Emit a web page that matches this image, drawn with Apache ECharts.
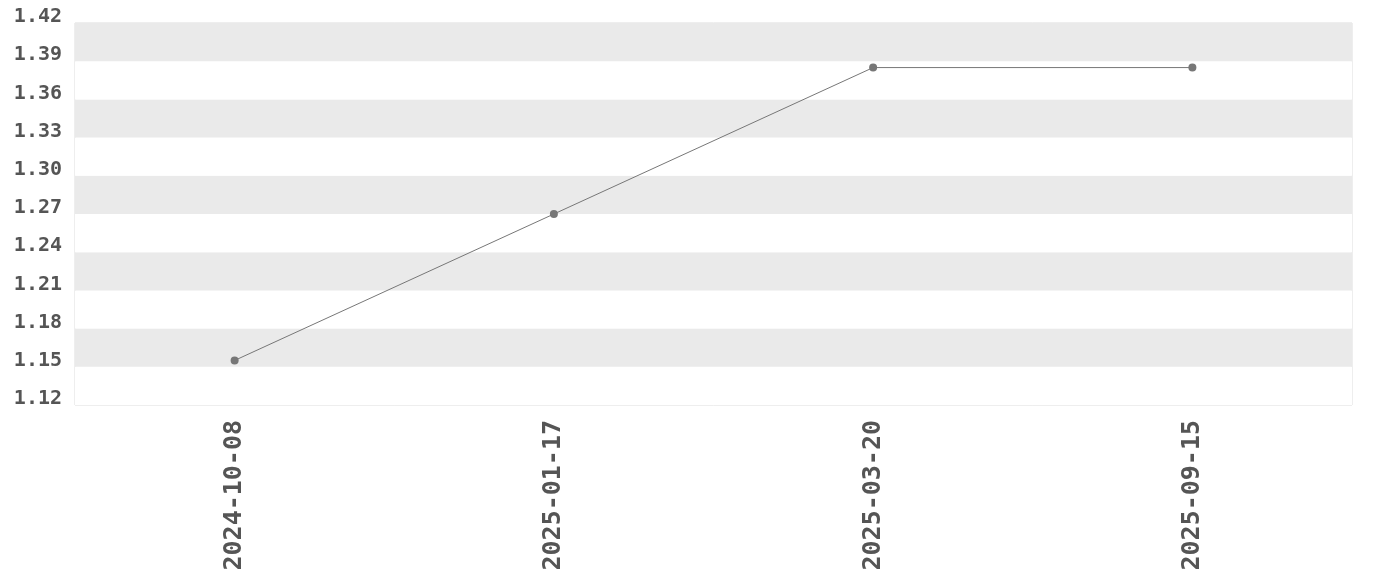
<!DOCTYPE html>
<html><head><meta charset="utf-8">
<script src="https://cdn.jsdelivr.net/npm/echarts@6/dist/echarts.min.js"></script>
<style>html,body{margin:0;padding:0;background:#fff}#c{width:1380px;height:580px}</style>
</head><body><div id="c"></div>
<script>
const categories = ['2024-10-08', '2025-01-17', '2025-03-20', '2025-09-15'];
const values = [1.155, 1.27, 1.385, 1.385];
const yMin = 1.12, yMax = 1.42, yStep = 0.03;
const FONT = 'monospace';

const chart = echarts.init(document.getElementById('c'), null, {renderer: 'canvas'});
chart.setOption({
  animation: false,
  grid: {left: 75, right: 28, top: 23, bottom: 175, show: true, borderColor: '#ddd', borderWidth: 1, backgroundColor: 'transparent'},
  xAxis: {
    type: 'category', data: categories, boundaryGap: true,
    axisLine: {show: false}, axisTick: {show: false},
    axisLabel: {rotate: 90, margin: 15, color: '#555', fontWeight: 'bold', fontFamily: FONT, fontSize: 25}
  },
  yAxis: {
    type: 'value', min: yMin, max: yMax, interval: yStep,
    axisLine: {show: false}, axisTick: {show: false}, splitLine: {show: false},
    splitArea: {show: true, areaStyle: {color: ['#ffffff', '#eaeaea']}},
    axisLabel: {margin: 13, color: '#555', fontWeight: 'bold', fontFamily: FONT, fontSize: 20,
      verticalAlign: 'bottom', lineHeight: 12,
      formatter: v => v.toFixed(2)}
  },
  series: [{
    type: 'line', data: values, symbol: 'circle', symbolSize: 8,
    lineStyle: {color: '#777', width: 1}, itemStyle: {color: '#777'}
  }]
});
</script></body></html>
